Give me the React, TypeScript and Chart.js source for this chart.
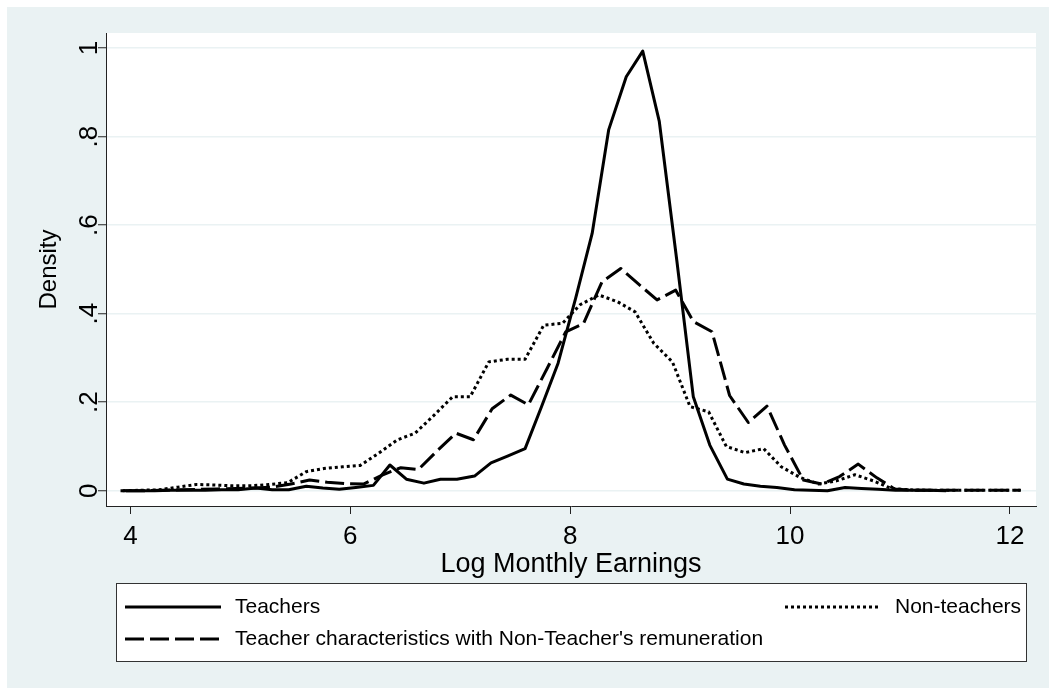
import React, { useEffect, useRef } from "react";
import { Chart, registerables } from "chart.js";

Chart.register(...registerables);

// ---- data ----
const teacherX = [
  3.91, 4.06, 4.22, 4.37, 4.52, 4.68, 4.83, 4.98, 5.14, 5.29,
  5.44, 5.6, 5.75, 5.9, 6.05, 6.21, 6.36, 6.51, 6.67, 6.82,
  6.97, 7.13, 7.28, 7.43, 7.59, 7.74, 7.89, 8.05, 8.2, 8.35,
  8.51, 8.66, 8.81, 8.97, 9.12, 9.27, 9.43, 9.58, 9.73, 9.88,
  10.04, 10.19, 10.34, 10.5, 10.65, 10.8, 10.96, 11.11, 11.26, 11.42,
];
const teacherY = [
  0, 0, 0, 0.001, 0.001, 0.001, 0.002, 0.002, 0.006, 0.002,
  0.002, 0.01, 0.006, 0.003, 0.007, 0.012, 0.058, 0.026, 0.017, 0.026,
  0.026, 0.033, 0.063, 0.078, 0.095, 0.19, 0.288, 0.435, 0.581, 0.815,
  0.935, 0.993, 0.835, 0.52, 0.212, 0.103, 0.026, 0.015, 0.01, 0.007,
  0.002, 0.001, 0, 0.007, 0.005, 0.003, 0.001, 0.001, 0.001, 0,
];

const nonTeacherX = [
  3.93, 4.1, 4.26, 4.43, 4.6, 4.76, 4.93, 5.1, 5.26, 5.43,
  5.6, 5.76, 5.93, 6.09, 6.26, 6.43, 6.59, 6.76, 6.93, 7.09,
  7.26, 7.43, 7.59, 7.76, 7.93, 8.09, 8.26, 8.43, 8.59, 8.76,
  8.93, 9.09, 9.26, 9.42, 9.59, 9.76, 9.92, 10.09, 10.26, 10.42,
  10.59, 10.76, 10.92, 11.09, 11.26, 11.42, 11.59, 11.76, 11.92, 12.09,
];
const nonTeacherY = [
  0, 0.001, 0.002, 0.008, 0.014, 0.013, 0.011, 0.011, 0.014, 0.018,
  0.043, 0.05, 0.054, 0.057, 0.085, 0.115, 0.13, 0.17, 0.212, 0.212,
  0.291, 0.297, 0.297, 0.374, 0.378, 0.42, 0.442, 0.427, 0.404, 0.333,
  0.291, 0.19, 0.178, 0.1, 0.086, 0.095, 0.054, 0.03, 0.015, 0.022,
  0.036, 0.022, 0.005, 0.002, 0.001, 0.001, 0.001, 0.001, 0.001, 0.001,
];

const counterX = [
  3.96, 4.13, 4.29, 4.46, 4.63, 4.79, 4.96, 5.13, 5.29, 5.46,
  5.63, 5.79, 5.96, 6.12, 6.29, 6.46, 6.62, 6.79, 6.96, 7.12,
  7.29, 7.46, 7.62, 7.79, 7.96, 8.12, 8.29, 8.46, 8.62, 8.79,
  8.96, 9.12, 9.29, 9.45, 9.62, 9.79, 9.95, 10.12, 10.29, 10.45,
  10.62, 10.79, 10.95, 11.12, 11.29, 11.45, 11.62, 11.79, 11.95, 12.1,
];
const counterY = [
  0, 0, 0.001, 0.002, 0.003, 0.004, 0.005, 0.006, 0.008, 0.015,
  0.024, 0.019, 0.016, 0.015, 0.035, 0.052, 0.048, 0.09, 0.13, 0.115,
  0.185, 0.216, 0.194, 0.276, 0.359, 0.377, 0.472, 0.502, 0.467, 0.431,
  0.453, 0.382, 0.359, 0.215, 0.154, 0.191, 0.103, 0.024, 0.015, 0.032,
  0.06, 0.029, 0.004, 0.001, 0.001, 0.001, 0.001, 0.001, 0.001, 0.001,
];

const xTicks = [4, 6, 8, 10, 12];
const yTicks = [0, 0.2, 0.4, 0.6, 0.8, 1];
const yTickLabels = ["0", ".2", ".4", ".6", ".8", "1"];
const seriesLabels = [
  "Teachers",
  "Non-teachers",
  "Teacher characteristics with Non-Teacher's remuneration",
];
const xTitle = "Log Monthly Earnings";
const yTitle = "Density";

const FONT = "'Liberation Sans', Arial, sans-serif";
const BG = "#eaf2f3";
const INK = "#000000";

const solidDash: number[] = [];
const dotDash = [3, 3];
const longDash = [19, 6];

const bgPlugin = {
  id: "stataBg",
  beforeDraw(chart: any) {
    const { ctx, width, height, chartArea } = chart;
    ctx.save();
    ctx.fillStyle = "#ffffff";
    ctx.fillRect(0, 0, width, height);
    ctx.fillStyle = BG;
    ctx.fillRect(7, 7, width - 7, height - 7);
    ctx.fillStyle = "#ffffff";
    ctx.fillRect(
      chartArea.left,
      chartArea.top,
      chartArea.right - chartArea.left,
      chartArea.bottom - chartArea.top
    );
    ctx.restore();
  },
};

const overlayPlugin = {
  id: "stataOverlay",
  afterDraw(chart: any) {
    const { ctx } = chart;
    const ys = chart.scales.y;
    ctx.save();
    // rotated y tick labels
    ctx.fillStyle = INK;
    ctx.font = `26px ${FONT}`;
    ctx.textAlign = "center";
    ctx.textBaseline = "alphabetic";
    yTicks.forEach((v, i) => {
      const py = ys.getPixelForValue(v);
      ctx.save();
      ctx.translate(97, py);
      ctx.rotate(-Math.PI / 2);
      ctx.fillText(yTickLabels[i], 0, 0);
      ctx.restore();
    });

    // legend box
    const lx = 116, ly = 583, lw = 910, lh = 78;
    ctx.fillStyle = "#ffffff";
    ctx.fillRect(lx, ly, lw, lh);
    ctx.strokeStyle = "#333333";
    ctx.lineWidth = 1;
    ctx.strokeRect(lx + 0.5, ly + 0.5, lw, lh);

    const ds = chart.data.datasets;
    const drawKey = (x0: number, x1: number, y: number, dash: number[]) => {
      ctx.save();
      ctx.strokeStyle = INK;
      ctx.lineWidth = 3;
      ctx.lineCap = "butt";
      ctx.setLineDash(dash);
      ctx.beginPath();
      ctx.moveTo(x0, y);
      ctx.lineTo(x1, y);
      ctx.stroke();
      ctx.restore();
    };
    ctx.font = `21px ${FONT}`;
    ctx.fillStyle = INK;
    ctx.textBaseline = "middle";
    ctx.textAlign = "left";
    const row1 = 607, row2 = 639;
    drawKey(125, 221, row1, ds[0].borderDash);
    ctx.fillText(ds[0].label, 235, row1);
    drawKey(785, 881, row1, ds[1].borderDash);
    ctx.fillText(ds[1].label, 895, row1);
    drawKey(125, 221, row2, ds[2].borderDash);
    ctx.fillText(ds[2].label, 235, row2);
    ctx.restore();
  },
};

export default function App() {
  const ref = useRef<HTMLCanvasElement | null>(null);

  useEffect(() => {
    if (!ref.current) return;
    const toPts = (xs: number[], ys: number[]) => xs.map((x, i) => ({ x, y: ys[i] }));
    const common = {
      borderColor: INK,
      backgroundColor: INK,
      borderWidth: 3,
      pointRadius: 0,
      tension: 0,
      fill: false,
      borderCapStyle: "butt",
      borderJoinStyle: "round",
    };
    const chart = new Chart(ref.current, {
      type: "line",
      data: {
        datasets: [
          { ...common, label: seriesLabels[0], data: toPts(teacherX, teacherY), borderDash: solidDash },
          { ...common, label: seriesLabels[1], data: toPts(nonTeacherX, nonTeacherY), borderDash: dotDash },
          { ...common, label: seriesLabels[2], data: toPts(counterX, counterY), borderDash: longDash },
        ],
      } as any,
      options: {
        animation: false,
        responsive: false,
        devicePixelRatio: 1,
        layout: { padding: { left: 0, top: 33, right: 13, bottom: 0 } },
        plugins: { legend: { display: false }, tooltip: { enabled: false } },
        scales: {
          x: {
            type: "linear",
            min: 3.778,
            max: 12.237,
            afterBuildTicks: (s: any) => {
              s.ticks = xTicks.map((v) => ({ value: v }));
            },
            afterFit: (s: any) => {
              s.height = 182;
            },
            ticks: {
              font: { family: FONT, size: 26 },
              color: INK,
              padding: 7,
              maxRotation: 0,
              autoSkip: false,
              callback: (v: any) => String(v),
            },
            grid: {
              drawOnChartArea: false,
              drawTicks: true,
              tickLength: 8,
              tickColor: "#222222",
              tickWidth: 1,
            },
            border: { display: true, color: "#222222", width: 1 },
            title: {
              display: true,
              text: xTitle,
              color: INK,
              font: { family: FONT, size: 27 },
              padding: { top: 0, bottom: 107 },
            },
          },
          y: {
            type: "linear",
            min: -0.0346,
            max: 1.0339,
            afterBuildTicks: (s: any) => {
              s.ticks = yTicks.map((v) => ({ value: v }));
            },
            afterFit: (s: any) => {
              s.width = 106;
            },
            ticks: { display: false },
            grid: {
              color: BG,
              lineWidth: 1.5,
              drawTicks: true,
              tickLength: 8,
              tickColor: "#222222",
              tickWidth: 1,
            },
            border: { display: true, color: "#222222", width: 1 },
            title: {
              display: true,
              text: yTitle,
              color: INK,
              font: { family: FONT, size: 24 },
              padding: { top: 35, bottom: 0 },
            },
          },
        },
      } as any,
      plugins: [bgPlugin, overlayPlugin],
    });
    return () => chart.destroy();
  }, []);

  return (
    <div style={{ position: "fixed", left: 0, top: 0, width: 1049, height: 688 }}>
      <canvas ref={ref} width={1049} height={688} style={{ width: 1049, height: 688, display: "block" }} />
    </div>
  );
}
